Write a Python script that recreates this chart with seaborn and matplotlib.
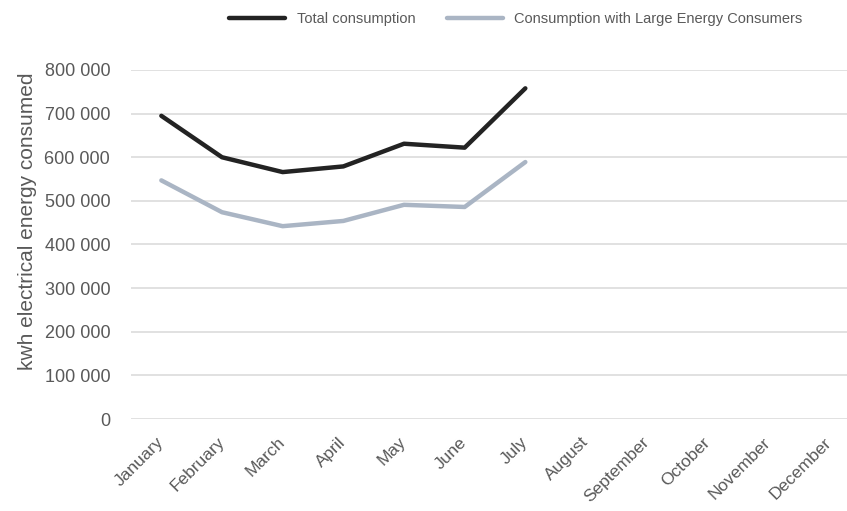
import matplotlib
matplotlib.use("Agg")
import matplotlib.pyplot as plt
import matplotlib.transforms as mtransforms
from matplotlib.ticker import FuncFormatter, MultipleLocator
import seaborn as sns
import pandas as pd

months = ["January", "February", "March", "April", "May", "June", "July",
          "August", "September", "October", "November", "December"]
data_months = ["January", "February", "March", "April", "May", "June", "July"]
total_consumption = [695000, 600000, 566000, 579000, 631000, 622000, 758000]
large_consumers = [547000, 474000, 442000, 454000, 491000, 486000, 589000]
series_names = ["Total consumption", "Consumption with Large Energy Consumers"]
series_colors = ["#232323", "#aab5c4"]

df = pd.DataFrame({
    "Month": data_months * 2,
    "kwh": total_consumption + large_consumers,
    "Series": [series_names[0]] * len(data_months) + [series_names[1]] * len(data_months),
})

sns.set_theme(style="white")
plt.rcParams["font.family"] = ["Liberation Sans", "DejaVu Sans"]
text_color = "#595959"

fig = plt.figure(figsize=(8.47, 5.11), dpi=100)
W, H = 847, 511
ax = fig.add_axes([131 / W, (H - 419) / H, (859 - 131) / W, (419 - 70) / H])

sns.lineplot(data=df, x="Month", y="kwh", hue="Series", hue_order=series_names,
             palette=series_colors, linewidth=3.2, ax=ax, sort=False)

ax.set_xlim(-0.5, 11.5)
ax.set_ylim(0, 800000)
ax.yaxis.set_major_locator(MultipleLocator(100000))
ax.yaxis.set_major_formatter(FuncFormatter(lambda v, p: f"{v:,.0f}".replace(",", " ")))
ax.set_xticks(range(len(months)))
ax.set_xticklabels(months, rotation=45, ha="right", va="center",
                   rotation_mode="anchor", fontsize=12.5, color=text_color)
offset = mtransforms.ScaledTranslation(7 / 100, 0, fig.dpi_scale_trans)
for lbl in ax.get_xticklabels():
    lbl.set_transform(lbl.get_transform() + offset)

ax.tick_params(axis="y", labelsize=13, labelcolor=text_color, length=0, pad=15)
ax.tick_params(axis="x", length=0, pad=15)
ax.grid(axis="y", color="#d9d9d9", linewidth=1.1)
ax.grid(axis="x", visible=False)
for s in ax.spines.values():
    s.set_visible(False)
ax.set_xlabel("")
ax.set_ylabel("kwh electrical energy consumed", fontsize=15, color=text_color)
ax.yaxis.set_label_coords((37 - 131) / 728, (419 - 221) / 349)

ax.legend(loc="center", bbox_to_anchor=(516 / W, 1 - 19 / H),
          bbox_transform=fig.transFigure, ncol=2, frameon=False,
          fontsize=10.5, handlelength=3.8, columnspacing=2.2,
          labelcolor=text_color)

fig.savefig("out.png", dpi=100)
